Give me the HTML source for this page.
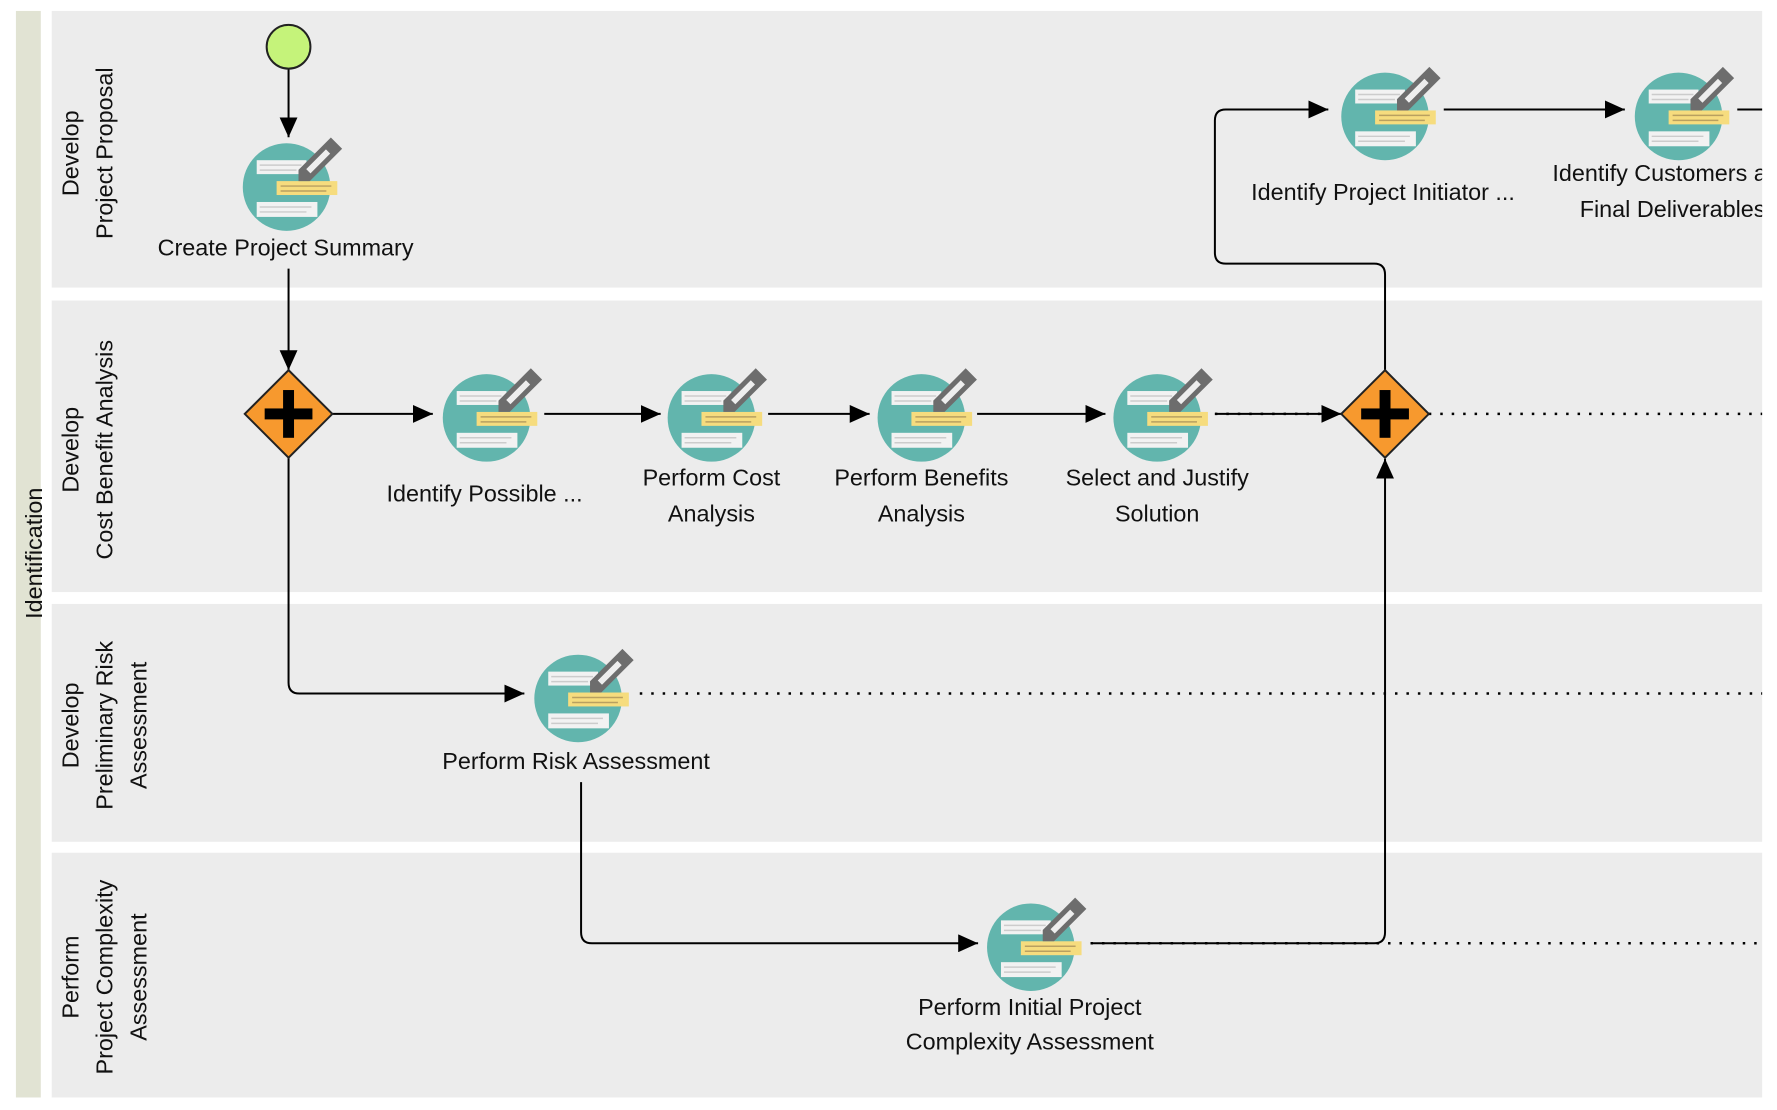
<!DOCTYPE html>
<html><head><meta charset="utf-8"><style>
html,body{margin:0;padding:0;background:#fff;width:1777px;height:1110px;overflow:hidden}
svg{display:block}
text{font-family:"Liberation Sans",Arial,sans-serif;fill:#111}
</style></head><body>
<svg width="1777" height="1110" viewBox="0 0 1777 1110" xmlns="http://www.w3.org/2000/svg">
<defs>
<marker id="ah2" markerWidth="20" markerHeight="18" refX="20" refY="9" orient="auto" markerUnits="userSpaceOnUse" viewBox="0 0 20 18">
<path d="M0,0 L20,9 L0,18 z" fill="#000"/></marker>
<g id="task">
<circle r="44" fill="#62b5ad"/>
<rect x="-30" y="-27" width="50" height="14" fill="#f2f2f2"/>
<line x1="-27" y1="-22" x2="15" y2="-22" stroke="#ccc" stroke-width="1.5"/>
<line x1="-27" y1="-17" x2="10" y2="-17" stroke="#ccc" stroke-width="1.5"/>
<rect x="-10" y="-6" width="61" height="14" fill="#f6dc7e"/>
<line x1="-6" y1="-1" x2="45" y2="-1" stroke="#b9a060" stroke-width="1.5"/>
<line x1="-6" y1="4" x2="40" y2="4" stroke="#b9a060" stroke-width="1.5"/>
<rect x="-30" y="15" width="61" height="15" fill="#f2f2f2"/>
<line x1="-27" y1="20" x2="25" y2="20" stroke="#ccc" stroke-width="1.5"/>
<line x1="-27" y1="25" x2="20" y2="25" stroke="#ccc" stroke-width="1.5"/>
<g transform="translate(12,-6) rotate(-45)">
<path d="M0,0 L8,-8 L54,-8 L54,8 L8,8 z" fill="#6d6d6d"/>
<rect x="14" y="-3" width="28" height="6" fill="#eee"/>
</g>
</g>
<g id="gw">
<path d="M0,-44 L44,0 L0,44 L-44,0 z" fill="#f7992e" stroke="#222" stroke-width="2"/>
<rect x="-24" y="-5.5" width="48" height="11" fill="#000"/>
<rect x="-5.5" y="-24" width="11" height="48" fill="#000"/>
</g>
</defs>
<g transform="scale(0.995)">
<rect x="16" y="11" width="25" height="1092" fill="#e1e3d3"/>
<text transform="translate(42,556) rotate(-90)" text-anchor="middle" font-size="23.5">Identification</text>

<rect x="52" y="11" width="1719" height="278" fill="#ececec"/>
<rect x="52" y="302" width="1719" height="293" fill="#ececec"/>
<rect x="52" y="607" width="1719" height="239" fill="#ececec"/>
<rect x="52" y="857" width="1719" height="246" fill="#ececec"/>

<g font-size="23.5" text-anchor="middle">
<text transform="translate(79,154) rotate(-90)">Develop</text>
<text transform="translate(113,154) rotate(-90)">Project Proposal</text>
<text transform="translate(79,452) rotate(-90)">Develop</text>
<text transform="translate(113,452) rotate(-90)">Cost Benefit Analysis</text>
<text transform="translate(79,729) rotate(-90)">Develop</text>
<text transform="translate(113,729) rotate(-90)">Preliminary Risk</text>
<text transform="translate(147,729) rotate(-90)">Assessment</text>
<text transform="translate(79,982) rotate(-90)">Perform</text>
<text transform="translate(113,982) rotate(-90)">Project Complexity</text>
<text transform="translate(147,982) rotate(-90)">Assessment</text>
</g>

<g fill="none" stroke="#000" stroke-width="2">
<line x1="290" y1="69" x2="290" y2="138" marker-end="url(#ah2)"/>
<line x1="290" y1="270" x2="290" y2="372" marker-end="url(#ah2)"/>
<line x1="334" y1="416" x2="435" y2="416" marker-end="url(#ah2)"/>
<line x1="547" y1="416" x2="664" y2="416" marker-end="url(#ah2)"/>
<line x1="772" y1="416" x2="874" y2="416" marker-end="url(#ah2)"/>
<line x1="982" y1="416" x2="1111" y2="416" marker-end="url(#ah2)"/>
<line x1="1221" y1="416" x2="1348" y2="416" marker-end="url(#ah2)"/>
<path d="M1392,372 L1392,276 Q1392,265 1381,265 L1232,265 Q1221,265 1221,254 L1221,121 Q1221,110 1232,110 L1335,110" marker-end="url(#ah2)"/>
<line x1="1451" y1="110" x2="1633" y2="110" marker-end="url(#ah2)"/>
<line x1="1746" y1="110" x2="1771" y2="110"/>
<path d="M290,460 L290,686 Q290,697 301,697 L527,697" marker-end="url(#ah2)"/>
<path d="M584,786 L584,937 Q584,948 595,948 L983,948" marker-end="url(#ah2)"/>
<path d="M1096,948 L1381,948 Q1392,948 1392,937 L1392,461" marker-end="url(#ah2)"/>
</g>
<g fill="none" stroke="#000" stroke-width="2.5" stroke-dasharray="2.5 9">
<line x1="1221" y1="416" x2="1340" y2="416"/>
<line x1="1436" y1="416" x2="1771" y2="416"/>
<line x1="643" y1="697" x2="1771" y2="697"/>
<line x1="1096" y1="948" x2="1771" y2="948"/>
</g>

<circle cx="290" cy="47" r="22" fill="#c5f37a" stroke="#222" stroke-width="2"/>
<use href="#task" x="288" y="188"/>
<use href="#gw" x="290" y="416"/>
<use href="#task" x="489" y="420"/>
<use href="#task" x="715" y="420"/>
<use href="#task" x="926" y="420"/>
<use href="#task" x="1163" y="420"/>
<use href="#gw" x="1392" y="416"/>
<use href="#task" x="1392" y="117"/>
<use href="#task" x="1687" y="117"/>
<use href="#task" x="581" y="702"/>
<use href="#task" x="1036" y="952"/>

<g font-size="23.5" text-anchor="middle">
<text x="287" y="257">Create Project Summary</text>
<text x="487" y="504">Identify Possible ...</text>
<text x="715" y="488">Perform Cost</text>
<text x="715" y="524">Analysis</text>
<text x="926" y="488">Perform Benefits</text>
<text x="926" y="524">Analysis</text>
<text x="1163" y="488">Select and Justify</text>
<text x="1163" y="524">Solution</text>
<text x="1390" y="201">Identify Project Initiator ...</text>
<text x="579" y="773">Perform Risk Assessment</text>
<text x="1035" y="1020">Perform Initial Project</text>
<text x="1035" y="1055">Complexity Assessment</text>
</g>
<svg x="1500" y="150" width="271" height="80" overflow="hidden">
<g font-size="23.5" text-anchor="middle">
<text x="181" y="32">Identify Customers and</text>
<text x="181" y="68">Final Deliverables</text>
</g>
</svg>
</g>
<rect x="1763" y="0" width="14" height="1110" fill="#fff"/>
</svg>
</body></html>
